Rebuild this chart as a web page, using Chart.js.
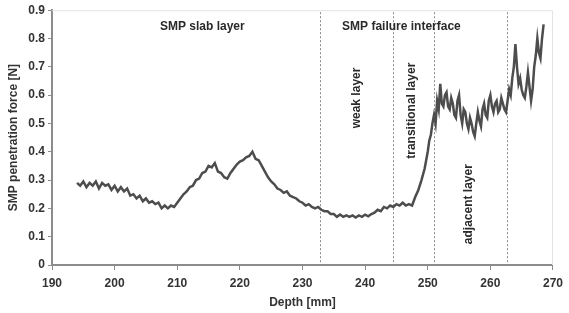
<!DOCTYPE html>
<html>
<head>
<meta charset="utf-8">
<script src="https://cdn.jsdelivr.net/npm/chart.js@4.4.1/dist/chart.umd.min.js"></script>
<style>
  html, body { margin: 0; padding: 0; background: #fff; }
  #wrap { width: 569px; height: 313px; }
</style>
</head>
<body>
<div id="wrap"><canvas id="myChart" width="569" height="313"></canvas></div>
<script>
// depth [mm], half-mm steps through the slab and weak layer
var depth = [
  194.0,194.5,195.0,195.5,196.0,196.5,197.0,197.5,198.0,198.5,199.0,199.5,
  200.0,200.5,201.0,201.5,202.0,202.5,203.0,203.5,204.0,204.5,205.0,205.5,
  206.0,206.5,207.0,207.5,208.0,208.5,209.0,209.5,210.0,210.5,211.0,211.5,
  212.0,212.5,213.0,213.5,214.0,214.5,215.0,215.5,216.0,216.5,217.0,217.5,
  218.0,218.5,219.0,219.5,220.0,220.5,221.0,221.5,222.0,222.5,223.0,223.5,
  224.0,224.5,225.0,225.5,226.0,226.5,227.0,227.5,228.0,228.5,229.0,229.5,
  230.0,230.5,231.0,231.5,232.0,232.5,233.0,233.5,234.0,234.5,235.0,235.5,
  236.0,236.5,237.0,237.5,238.0,238.5,239.0,239.5,240.0,240.5,241.0,241.5,
  242.0,242.5,243.0,243.5,244.0,244.5,245.0,245.5,246.0,246.5,247.0,247.5,
  248.0,248.5,249.0,249.5
];
// SMP penetration force [N]
var force = [
  0.29,0.28,0.295,0.275,0.29,0.28,0.295,0.27,0.29,0.28,0.285,0.265,
  0.28,0.26,0.275,0.26,0.27,0.245,0.25,0.235,0.245,0.225,0.235,0.22,
  0.225,0.215,0.22,0.2,0.21,0.2,0.21,0.205,0.22,0.235,0.25,0.26,
  0.275,0.28,0.3,0.305,0.325,0.33,0.35,0.345,0.36,0.33,0.325,0.31,
  0.305,0.325,0.34,0.355,0.365,0.37,0.38,0.385,0.4,0.375,0.37,0.35,
  0.33,0.31,0.295,0.285,0.27,0.265,0.255,0.26,0.245,0.24,0.235,0.225,
  0.22,0.21,0.215,0.205,0.2,0.205,0.195,0.19,0.19,0.18,0.18,0.17,
  0.178,0.17,0.175,0.17,0.175,0.168,0.175,0.17,0.178,0.172,0.18,0.185,
  0.195,0.19,0.205,0.2,0.21,0.205,0.215,0.21,0.22,0.21,0.215,0.21,
  0.24,0.265,0.3,0.34
];
// quarter-mm steps through the noisy transitional / adjacent layers
var depthDeep = [
  250.0,250.25,250.5,250.75,251.0,251.25,251.5,251.75,252.0,252.25,252.5,252.75,
  253.0,253.25,253.5,253.75,254.0,254.25,254.5,254.75,255.0,255.25,255.5,255.75,
  256.0,256.25,256.5,256.75,257.0,257.25,257.5,257.75,258.0,258.25,258.5,258.75,
  259.0,259.25,259.5,259.75,260.0,260.25,260.5,260.75,261.0,261.25,261.5,261.75,
  262.0,262.25,262.5,262.75,263.0,263.25,263.5,263.75,264.0,264.25,264.5,264.75,
  265.0,265.25,265.5,265.75,266.0,266.25,266.5,266.75,267.0,267.25,267.5,267.75,
  268.0,268.25,268.5
];
var forceDeep = [
  0.4,0.44,0.46,0.5,0.53,0.5,0.58,0.55,0.64,0.57,0.56,0.6,
  0.61,0.56,0.55,0.59,0.57,0.53,0.52,0.58,0.6,0.53,0.5,0.55,
  0.54,0.5,0.48,0.52,0.5,0.47,0.455,0.5,0.54,0.51,0.49,0.55,
  0.57,0.53,0.52,0.58,0.6,0.56,0.54,0.57,0.58,0.54,0.55,0.59,
  0.57,0.55,0.54,0.58,0.62,0.6,0.66,0.7,0.78,0.7,0.64,0.66,
  0.62,0.6,0.59,0.63,0.68,0.63,0.58,0.62,0.7,0.74,0.8,0.75,
  0.73,0.8,0.85
];
var xTicks = [190, 200, 210, 220, 230, 240, 250, 260, 270];
var yTicks = [0, 0.1, 0.2, 0.3, 0.4, 0.5, 0.6, 0.7, 0.8, 0.9];
var boundaries = [232.8, 244.4, 251.0, 262.7];
var labelText = ['SMP slab layer', 'SMP failure interface', 'weak layer', 'transitional layer', 'adjacent layer'];
var labelX = [214, 245.8, 238.6, 247.5, 256.5];
var labelY = [0.84, 0.84, 0.59, 0.545, 0.215];
var labelRot = [0, 0, -90, -90, -90];

var points = depth.map(function (d, i) { return { x: d, y: force[i] }; })
  .concat(depthDeep.map(function (d, i) { return { x: d, y: forceDeep[i] }; }));

var fontMain = { family: '"Liberation Sans", Arial, sans-serif', size: 12, weight: 'bold' };

var layers = {
  id: 'layers',
  beforeDatasetsDraw: function (chart) {
    var c = chart.ctx, a = chart.chartArea;
    var xs = chart.scales.x;
    c.save();
    // faint frame
    c.strokeStyle = '#e4e4e4';
    c.lineWidth = 1;
    c.beginPath();
    c.moveTo(a.left, a.top + 0.5);
    c.lineTo(a.right - 0.5, a.top + 0.5);
    c.lineTo(a.right - 0.5, a.bottom);
    c.stroke();
    // boundaries
    c.strokeStyle = '#8a8a8a';
    c.setLineDash([2, 2]);
    boundaries.forEach(function (b) {
      var px = Math.round(xs.getPixelForValue(b)) + 0.5;
      c.beginPath();
      c.moveTo(px, a.top + 2);
      c.lineTo(px, a.bottom);
      c.stroke();
    });
    c.restore();
  },
  afterDatasetsDraw: function (chart) {
    var c = chart.ctx;
    var xs = chart.scales.x, ys = chart.scales.y;
    c.save();
    c.fillStyle = '#2a2a2a';
    c.font = 'bold 12px "Liberation Sans", Arial, sans-serif';
    c.textAlign = 'center';
    c.textBaseline = 'middle';
    labelText.forEach(function (t, i) {
      c.save();
      c.translate(xs.getPixelForValue(labelX[i]), ys.getPixelForValue(labelY[i]));
      c.rotate(labelRot[i] * Math.PI / 180);
      c.fillText(t, 0, 0);
      c.restore();
    });
    c.restore();
  }
};

var ctx = document.getElementById('myChart').getContext('2d');
var chart = new Chart(ctx, {
  type: 'line',
  data: {
    datasets: [{
      label: 'SMP',
      data: points,
      borderColor: '#4d4d4d',
      borderWidth: 2.5,
      pointRadius: 0,
      tension: 0,
      fill: false
    }]
  },
  options: {
    responsive: false,
    animation: false,
    layout: { padding: { top: 10, right: 8, left: 0, bottom: 0 } },
    plugins: { legend: { display: false }, tooltip: { enabled: false } },
    scales: {
      x: {
        type: 'linear',
        min: 190, max: 270,
        afterBuildTicks: function (s) { s.ticks = xTicks.map(function (v) { return { value: v }; }); },
        afterFit: function (s) { s.height = 48; },
        border: { color: '#8c8c8c', width: 2 },
        grid: { drawOnChartArea: false, color: '#8c8c8c', tickLength: 5, lineWidth: 1 },
        ticks: { color: '#333', font: fontMain, padding: 6, maxRotation: 0 },
        title: { display: true, text: 'Depth [mm]', color: '#333', font: fontMain, padding: { top: 2, bottom: 3 } }
      },
      y: {
        min: 0, max: 0.9,
        afterBuildTicks: function (s) { s.ticks = yTicks.map(function (v) { return { value: v }; }); },
        afterFit: function (s) { s.width = 52; },
        border: { color: '#8c8c8c', width: 2 },
        grid: { drawOnChartArea: false, color: '#8c8c8c', tickLength: 4, lineWidth: 1 },
        ticks: {
          color: '#333', font: fontMain, padding: 3,
          callback: function (v) { return v === 0 ? '0' : v.toFixed(1); }
        },
        title: { display: true, text: 'SMP penetration force [N]', color: '#333', font: fontMain, padding: { top: 6, bottom: 2 } }
      }
    }
  },
  plugins: [layers]
});
</script>
</body>
</html>
